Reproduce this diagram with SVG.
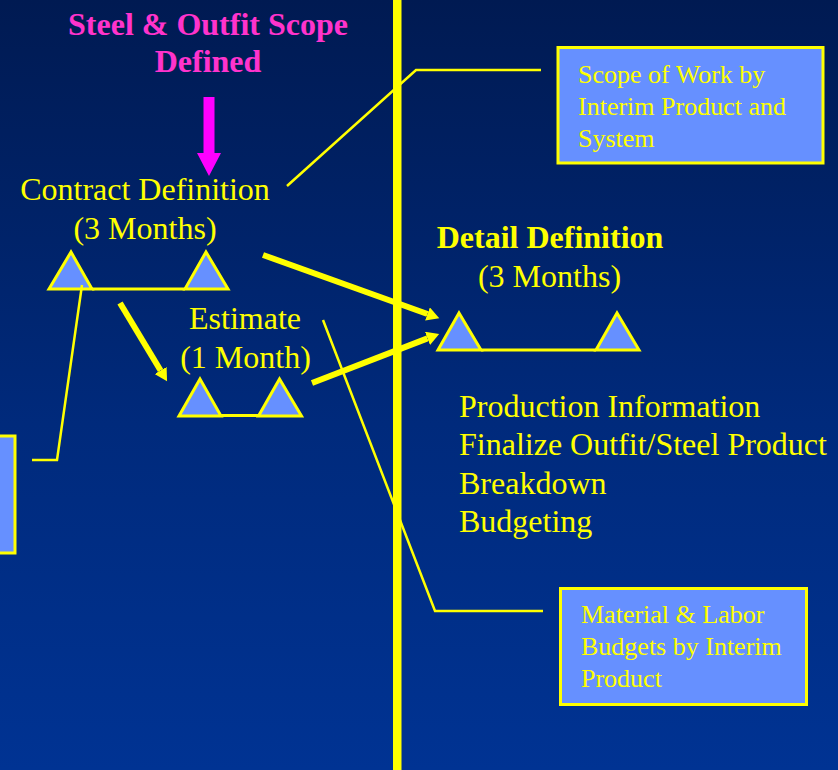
<svg xmlns="http://www.w3.org/2000/svg" width="838" height="770" viewBox="0 0 838 770">
  <defs>
    <linearGradient id="bg" x1="0" y1="0" x2="0" y2="1">
      <stop offset="0" stop-color="#001a52"/>
      <stop offset="0.55" stop-color="#002a7c"/>
      <stop offset="1" stop-color="#003393"/>
    </linearGradient>
    <marker id="head" markerUnits="userSpaceOnUse" markerWidth="13" markerHeight="14" refX="0" refY="7" orient="auto">
      <path d="M0,0 L12.5,7 L0,14 z" fill="#ffff00"/>
    </marker>
    <style>
      text { font-family: "Liberation Serif", "Times New Roman", serif; fill: #ffff00; }
      .title { font-size: 32px; font-weight: bold; fill: #ff33cc; text-anchor: middle; }
      .label { font-size: 32px; text-anchor: middle; }
      .bold { font-weight: bold; }
      .list { font-size: 32px; }
      .boxtext { font-size: 26px; }
      .box { fill: #6690ff; stroke: #ffff00; stroke-width: 3; }
      .tri { fill: #6690ff; stroke: #ffff00; stroke-width: 3; stroke-linejoin: miter; }
      .bar { stroke: #ffff00; stroke-width: 3; }
      .callout { fill: none; stroke: #ffff00; stroke-width: 2.5; }
      .flow { stroke: #ffff00; stroke-width: 6; marker-end: url(#head); }
    </style>
  </defs>

  <!-- backdrop and phase divider -->
  <rect x="0" y="0" width="838" height="770" fill="url(#bg)"/>
  <rect x="393" y="0" width="8.5" height="770" fill="#ffff00"/>

  <!-- scope milestone heading -->
  <g id="scope-defined">
    <text class="title" x="208" y="35">Steel &amp; Outfit Scope</text>
    <text class="title" x="208" y="72">Defined</text>
    <polygon points="203.5,97 214.5,97 214.5,153 221,153 209,176 197,153 203.5,153" fill="#ff00ff"/>
  </g>

  <!-- contract definition phase -->
  <g id="contract-definition">
    <text class="label" x="145" y="200">Contract Definition</text>
    <text class="label" x="145" y="239">(3 Months)</text>
    <line class="bar" x1="92" y1="289" x2="185" y2="289"/>
    <polygon class="tri" points="71,252 49,289 92,289"/>
    <polygon class="tri" points="206,252 185,289 228,289"/>
  </g>

  <!-- estimate phase -->
  <g id="estimate">
    <text class="label" x="245" y="329">Estimate</text>
    <text class="label" x="245.5" y="368">(1 Month)</text>
    <line class="bar" x1="221" y1="415.5" x2="259" y2="415.5"/>
    <polygon class="tri" points="200,379 179,416 221,416"/>
    <polygon class="tri" points="279.5,379 258.5,416 301.5,416"/>
  </g>

  <!-- detail definition phase -->
  <g id="detail-definition">
    <text class="label bold" x="550" y="248">Detail Definition</text>
    <text class="label" x="549.5" y="287">(3 Months)</text>
    <line class="bar" x1="481" y1="350" x2="596" y2="350"/>
    <polygon class="tri" points="459,313 438,350 481,350"/>
    <polygon class="tri" points="617,313 596,350 639,350"/>
  </g>

  <!-- detail definition activities -->
  <g id="detail-activities">
    <text class="list" x="459" y="417">Production Information</text>
    <text class="list" x="459" y="455">Finalize Outfit/Steel Product</text>
    <text class="list" x="459" y="494">Breakdown</text>
    <text class="list" x="459" y="532">Budgeting</text>
  </g>

  <!-- deliverable boxes -->
  <g id="scope-of-work">
    <rect class="box" x="558" y="47.5" width="265" height="115.5"/>
    <text class="boxtext" x="578" y="83">Scope of Work by</text>
    <text class="boxtext" x="578" y="115">Interim Product and</text>
    <text class="boxtext" x="578" y="147">System</text>
  </g>

  <g id="material-labor">
    <rect class="box" x="560.5" y="588.5" width="246" height="116"/>
    <text class="boxtext" x="581" y="623">Material &amp; Labor</text>
    <text class="boxtext" x="581" y="655">Budgets by Interim</text>
    <text class="boxtext" x="581" y="687">Product</text>
  </g>

  <g id="left-deliverable">
    <rect class="box" x="-10" y="436" width="25" height="117"/>
  </g>

  <!-- connectors -->
  <g id="connectors">
    <polyline class="callout" points="287,186 416,70 541,70"/>
    <polyline class="callout" points="82,285 57,460 32,460"/>
    <polyline class="callout" points="323,320 435,611 543,611"/>
    <line class="flow" x1="263" y1="255" x2="427.5" y2="314"/>
    <line class="flow" x1="312" y1="383" x2="427.5" y2="338.4"/>
    <line class="flow" x1="120" y1="303" x2="160.6" y2="370.5"/>
  </g>
</svg>
